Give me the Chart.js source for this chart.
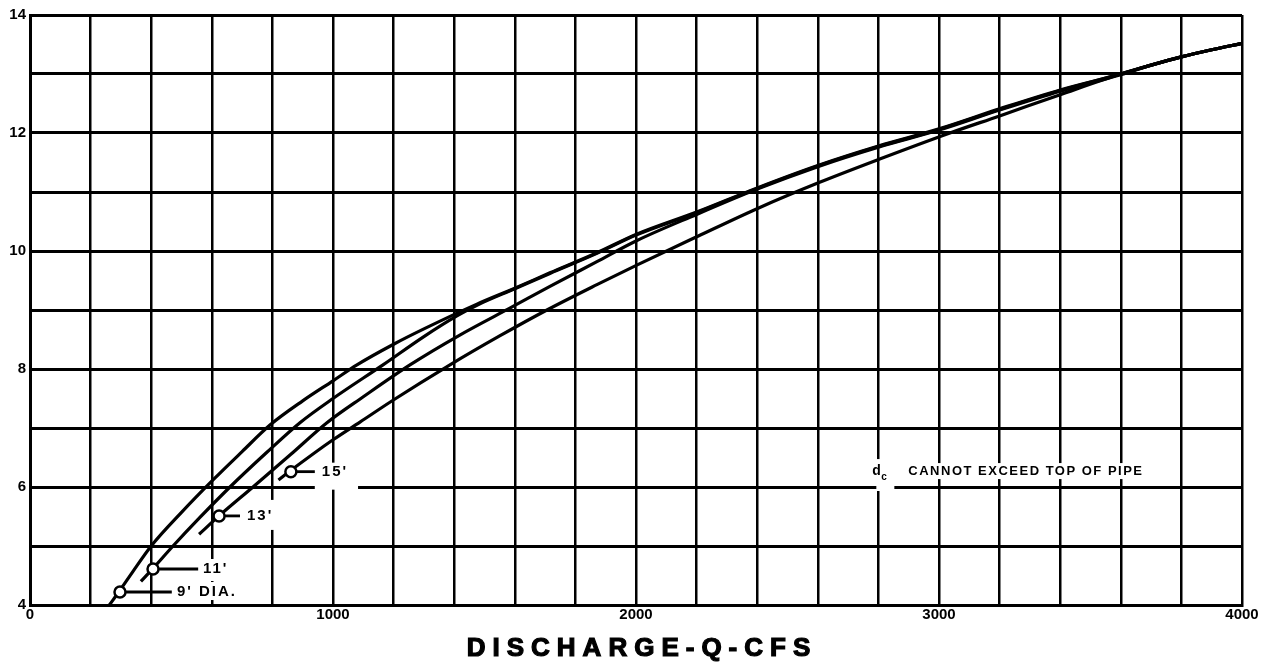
<!DOCTYPE html>
<html>
<head>
<meta charset="utf-8">
<script src="https://cdn.jsdelivr.net/npm/chart.js@4.4.1/dist/chart.umd.min.js"></script>
<style>
html, body { margin: 0; padding: 0; background: #fff; }
</style>
</head>
<body>
<canvas id="chart" width="1275" height="665"></canvas>
<script>
// Discharge (cfs) vs depth curves
const q9  = [262, 297, 340, 400, 500, 604, 700, 792, 900, 1000, 1079, 1200, 1300, 1475, 1600, 1716, 1871, 2000, 2200, 2400, 2600, 2800, 3000, 3200, 3400, 3600, 3700, 3800, 3900, 4000];
const d9  = [4.0, 4.25, 4.57, 5.0, 5.57, 6.12, 6.6, 7.05, 7.46, 7.8, 8.07, 8.42, 8.68, 9.1, 9.37, 9.63, 9.97, 10.28, 10.66, 11.07, 11.45, 11.78, 12.07, 12.41, 12.73, 13.0, 13.15, 13.29, 13.41, 13.52];

const q11 = [366, 406, 472, 560, 660, 780, 891, 1000, 1165, 1300, 1409, 1475, 1600, 1716, 1871, 2000, 2200, 2400, 2600, 2800, 3000, 3200, 3400, 3600, 3700, 3800, 3900, 4000];
const d11 = [4.4, 4.62, 5.0, 5.48, 6.0, 6.58, 7.09, 7.5, 8.07, 8.55, 8.9, 9.08, 9.36, 9.62, 9.96, 10.27, 10.65, 11.06, 11.44, 11.77, 12.06, 12.40, 12.72, 13.0, 13.15, 13.29, 13.41, 13.52];

const q13 = [558, 624, 736, 860, 980, 1100, 1254, 1420, 1594, 1716, 1871, 2000, 2200, 2400, 2600, 2800, 3000, 3200, 3400, 3600, 3700, 3800, 3900, 4000];
const d13 = [5.2, 5.51, 6.0, 6.55, 7.09, 7.53, 8.07, 8.58, 9.06, 9.4, 9.82, 10.17, 10.62, 11.05, 11.43, 11.76, 12.05, 12.39, 12.71, 12.99, 13.15, 13.29, 13.41, 13.52];

const q15 = [820, 858, 1000, 1089, 1198, 1386, 1550, 1706, 1871, 2006, 2204, 2405, 2604, 2800, 3036, 3200, 3400, 3600, 3700, 3800, 3900, 4000];
const d15 = [6.12, 6.27, 6.8, 7.1, 7.47, 8.07, 8.56, 9.0, 9.43, 9.77, 10.25, 10.73, 11.16, 11.55, 12.0, 12.29, 12.65, 13.0, 13.15, 13.29, 13.41, 13.52];

// pipe size call-outs: circle on the curve, leader line, then the text
const sizeLabels = ["9' DIA.", "11'", "13'", "15'"];
const circleQ = [297, 406, 624, 861];
const circleD = [4.22, 4.61, 5.51, 6.26];
const leaderEndQ = [468, 555, 693, 940];
const labelQ = [485, 571, 716, 963];

// limit note
const noteText = 'CANNOT EXCEED TOP OF PIPE';
const noteQ = 2780;
const noteD = 6.27;

const xTitle = 'DISCHARGE-Q-CFS';

const pts = (xs, ys) => xs.map((x, i) => ({ x: x, y: ys[i] }));

const numFont = { family: '"Liberation Sans", sans-serif', size: 15, weight: 'bold' };

function curve(xs, ys) {
    return {
        data: pts(xs, ys),
        showLine: true,
        borderColor: '#000',
        borderWidth: 3.2,
        pointRadius: 0,
        cubicInterpolationMode: 'monotone',
        order: 2
    };
}

const datasets = [];

// circles on top
datasets.push({
    data: pts(circleQ, circleD),
    showLine: false,
    pointRadius: 5.5,
    pointBorderWidth: 2.5,
    pointBackgroundColor: '#fff',
    pointBorderColor: '#000',
    order: 0
});

// leader lines
circleQ.forEach((q, i) => {
    datasets.push({
        data: [{ x: q, y: circleD[i] }, { x: leaderEndQ[i], y: circleD[i] }],
        showLine: true,
        borderColor: '#000',
        borderWidth: 2.8,
        pointRadius: 0,
        order: 1
    });
});

datasets.push(curve(q9, d9));
datasets.push(curve(q11, d11));
datasets.push(curve(q13, d13));
datasets.push(curve(q15, d15));

// white knock-out boxes behind text (they break the grid like on the plate)
// [left, right, top, bottom] extra room in px
const boxPad = [[3, 4, 10, 8], [3, 4, 10, 12], [4, 7, 16, 14], [7, 10, 9, 18]];

const annotate = {
    id: 'annotate',
    beforeDatasetsDraw(chart) {
        const ctx = chart.ctx;
        const xs = chart.scales.x, ys = chart.scales.y;
        ctx.save();
        ctx.textBaseline = 'middle';
        ctx.textAlign = 'left';
        ctx.font = 'bold 15px "Liberation Sans", sans-serif';
        ctx.letterSpacing = '2px';

        sizeLabels.forEach((t, i) => {
            const px = xs.getPixelForValue(labelQ[i]);
            const py = ys.getPixelForValue(circleD[i]);
            const w = ctx.measureText(t).width;
            const p = boxPad[i];
            ctx.fillStyle = '#fff';
            ctx.fillRect(px - p[0], py - p[2], w + p[0] + p[1], p[2] + p[3]);
            ctx.fillStyle = '#000';
            ctx.fillText(t, px, py);
        });

        // d with subscript c, then the note
        const nx = xs.getPixelForValue(noteQ);
        const ny = ys.getPixelForValue(noteD);
        const lineY = ys.getPixelForValue(6);
        ctx.fillStyle = '#fff';
        ctx.fillRect(nx + 4, ny - 12, 18, lineY - ny + 16);
        ctx.fillStyle = '#000';
        ctx.font = 'bold 14px "Liberation Sans", sans-serif';
        ctx.letterSpacing = '0px';
        ctx.fillText('d', nx, ny);
        ctx.font = 'bold 10px "Liberation Sans", sans-serif';
        ctx.fillText('c', nx + 9, ny + 6);

        ctx.font = 'bold 13px "Liberation Sans", sans-serif';
        ctx.letterSpacing = '1.5px';
        const tx = nx + 36;
        const tw = ctx.measureText(noteText).width;
        ctx.fillStyle = '#fff';
        ctx.fillRect(tx - 3, ny - 8, tw + 4, 16);
        ctx.fillStyle = '#000';
        ctx.fillText(noteText, tx, ny);
        ctx.restore();
    },
    afterDraw(chart) {
        const ctx = chart.ctx;
        const area = chart.chartArea;
        ctx.save();
        ctx.font = 'bold 26px "Liberation Sans", sans-serif';
        ctx.letterSpacing = '7px';
        ctx.textAlign = 'center';
        ctx.textBaseline = 'middle';
        ctx.fillStyle = '#000';
        ctx.strokeStyle = '#000';
        ctx.lineWidth = 1.2;
        const cx = (area.left + area.right) / 2 + 6;
        ctx.fillText(xTitle, cx, 649);
        ctx.strokeText(xTitle, cx, 649);
        ctx.restore();
    }
};

new Chart(document.getElementById('chart'), {
    type: 'scatter',
    data: { datasets: datasets },
    options: {
        responsive: false,
        animation: false,
        layout: { padding: { top: 15, right: 33, left: 0, bottom: 0 } },
        plugins: {
            legend: { display: false },
            tooltip: { enabled: false }
        },
        scales: {
            x: {
                type: 'linear',
                min: 0,
                max: 4000,
                afterFit: s => { s.height = 60; },
                ticks: {
                    stepSize: 200,
                    autoSkip: false,
                    maxRotation: 0,
                    padding: 1,
                    color: '#000',
                    font: numFont,
                    callback: v => (v % 1000 === 0 ? String(v) : '')
                },
                grid: { color: '#000', lineWidth: 2.5, drawTicks: false },
                border: { color: '#000', width: 3 }
            },
            y: {
                type: 'linear',
                min: 4,
                max: 14,
                afterFit: s => { s.width = 30; },
                ticks: {
                    stepSize: 1,
                    autoSkip: false,
                    padding: 4,
                    color: '#000',
                    font: numFont,
                    callback: v => (v % 2 === 0 ? String(v) : '')
                },
                grid: { color: '#000', lineWidth: 3, drawTicks: false },
                border: { color: '#000', width: 3 }
            }
        }
    },
    plugins: [annotate]
});
</script>
</body>
</html>
